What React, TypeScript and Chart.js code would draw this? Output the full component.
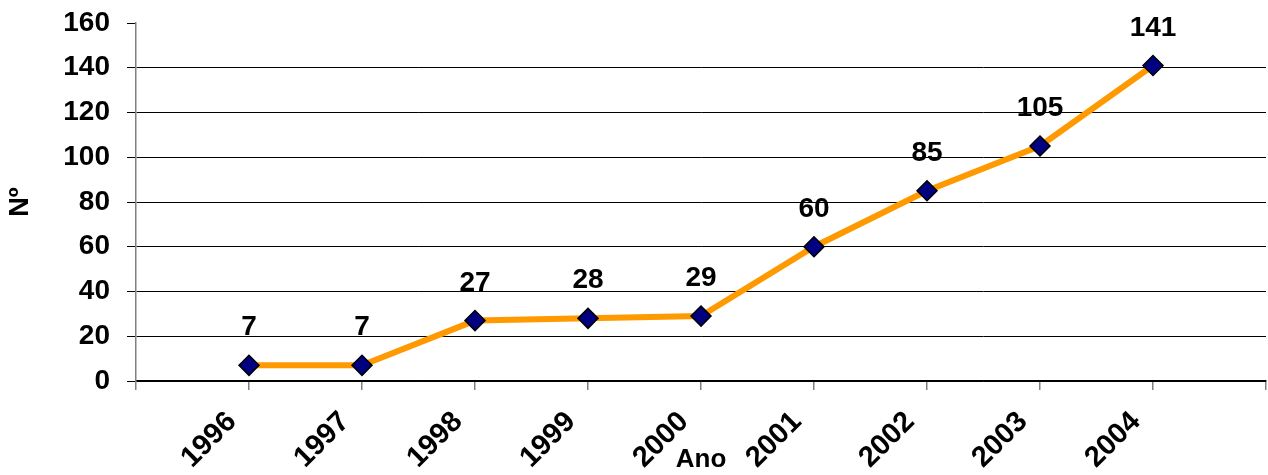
import React, { useEffect, useRef } from "react";
import { Chart, registerables } from "chart.js";

Chart.register(...registerables);

const years = [1996, 1997, 1998, 1999, 2000, 2001, 2002, 2003, 2004];
const counts = [7, 7, 27, 28, 29, 60, 85, 105, 141];
const yTicks = [0, 20, 40, 60, 80, 100, 120, 140, 160];
const xTitle = "Ano";
const yTitle = "Nº";

const FONT = "'Liberation Sans', Arial, sans-serif";

const dataLabelPlugin = {
  id: "dataLabels",
  afterDatasetsDraw(chart: any) {
    const ctx = chart.ctx;
    const meta = chart.getDatasetMeta(0);
    ctx.save();
    ctx.font = `bold 28px ${FONT}`;
    ctx.fillStyle = "#000";
    ctx.textAlign = "center";
    ctx.textBaseline = "alphabetic";
    meta.data.forEach((pt: any, i: number) => {
      ctx.fillText(String(counts[i]), pt.x, pt.y - 30);
    });
    ctx.restore();
  },
};

export default function App() {
  const ref = useRef<HTMLCanvasElement | null>(null);

  useEffect(() => {
    document.body.style.margin = "0";
    if (!ref.current) return;
    const chart = new Chart(ref.current, {
      type: "line",
      data: {
        datasets: [
          {
            data: years.map((y, i) => ({ x: y, y: counts[i] })),
            borderColor: "#FF9900",
            borderWidth: 6,
            pointStyle: "rectRot",
            pointRadius: 10,
            pointBackgroundColor: "#000080",
            pointBorderColor: "#000000",
            pointBorderWidth: 1.5,
            tension: 0,
            clip: false as any,
          },
        ],
      },
      plugins: [dataLabelPlugin],
      options: {
        animation: false,
        responsive: false,
        maintainAspectRatio: false,
        layout: { autoPadding: false, padding: { top: 23, right: 2, left: 0, bottom: 0 } },
        plugins: { legend: { display: false }, tooltip: { enabled: false } },
        scales: {
          x: {
            type: "linear",
            min: years[0] - 1,
            max: years[years.length - 1] + 1,
            afterBuildTicks: (scale: any) => {
              const t = [];
              for (let v = years[0] - 1; v <= years[years.length - 1] + 1; v++) t.push({ value: v });
              scale.ticks = t;
            },
            afterFit: (scale: any) => {
              scale.height = 94;
              scale.paddingLeft = 0;
              scale.paddingRight = 0;
            },
            border: { display: true, color: "#000", width: 1.5 },
            grid: {
              drawOnChartArea: false,
              drawTicks: true,
              tickLength: 9,
              tickColor: "#808080",
              lineWidth: 1.5,
            },
            ticks: {
              autoSkip: false,
              minRotation: 45,
              maxRotation: 45,
              padding: 15,
              labelOffset: -17,
              color: "#000",
              font: { family: FONT, size: 29, weight: "bold" },
              callback: (v: any) => (years.includes(Number(v)) ? String(v) : ""),
            },
            title: {
              display: true,
              text: xTitle,
              color: "#000",
              font: { family: FONT, size: 26, weight: "bold" },
              padding: { top: 0, bottom: 0 },
            },
          },
          y: {
            min: yTicks[0],
            max: yTicks[yTicks.length - 1],
            afterBuildTicks: (scale: any) => {
              scale.ticks = yTicks.map((v) => ({ value: v }));
            },
            afterFit: (scale: any) => {
              scale.width = 136;
              scale.paddingTop = 0;
              scale.paddingBottom = 0;
            },
            border: { display: true, color: "#808080", width: 1.5 },
            grid: {
              color: (c: any) => (c.tick && c.tick.value === yTicks[yTicks.length - 1] ? "rgba(0,0,0,0)" : "#000"),
              tickColor: "#000",
              lineWidth: 1,
              tickLength: 9,
            },
            ticks: {
              padding: 17,
              color: "#000",
              font: { family: FONT, size: 28, weight: "bold" },
            },
            title: {
              display: true,
              text: yTitle,
              color: "#000",
              font: { family: FONT, size: 27, weight: "bold" },
              padding: { top: 4, bottom: 0 },
            },
          },
        },
      },
    });
    return () => chart.destroy();
  }, []);

  return (
    <div style={{ width: 1268, height: 475 }}>
      <canvas ref={ref} width={1268} height={475} style={{ display: "block" }} />
    </div>
  );
}
